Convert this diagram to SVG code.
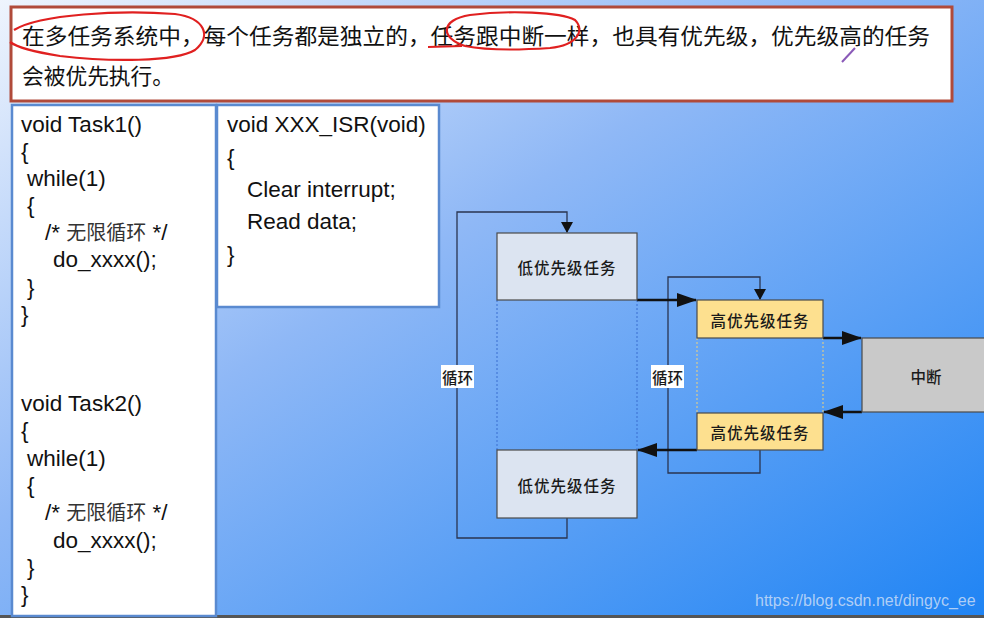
<svg xmlns="http://www.w3.org/2000/svg" width="984" height="618" viewBox="0 0 984 618">
<style>
.code{font-family:"Liberation Sans",Arial,"Noto Sans CJK SC",sans-serif;font-size:22.5px;fill:#111}
.cn{font-family:"Noto Sans CJK SC",sans-serif;fill:#111}
.lbl{font-family:"Noto Sans CJK SC",sans-serif;font-size:15.5px;fill:#1a1a1a;text-anchor:middle;dominant-baseline:central;font-weight:500}
.low{fill:#dce4f1;stroke:#4a4a4a;stroke-width:1.2}
.high{fill:#fde08f;stroke:#4a4a4a;stroke-width:1.2}
.intr{fill:#c9c9c9;stroke:#4a4a4a;stroke-width:1.2}
.loop{fill:none;stroke:#2a3550;stroke-width:1.3}
.flow{fill:none;stroke:#111;stroke-width:2.4}
.dotb{stroke:#3a6fd0;stroke-width:1;stroke-dasharray:2 2}
.doty{stroke:#f2d27a;stroke-width:1;stroke-dasharray:2 2}
</style>
<defs>
<linearGradient id="bg" x1="0" y1="0" x2="1" y2="1">
<stop offset="0" stop-color="#eef4fd"/>
<stop offset="0.42" stop-color="#8fb8f6"/>
<stop offset="1" stop-color="#1f84f4"/>
</linearGradient>
<marker id="ah" markerWidth="11" markerHeight="12" refX="10" refY="6" orient="auto" markerUnits="userSpaceOnUse">
<path d="M0,0 L11,6 L0,12 z" fill="#111"/>
</marker>
<marker id="ahb" markerWidth="20" markerHeight="14" refX="19" refY="7" orient="auto" markerUnits="userSpaceOnUse">
<path d="M0,0 L20,7 L0,14 z" fill="#111"/>
</marker>
</defs>
<rect x="0" y="0" width="984" height="618" fill="url(#bg)"/>
<rect x="0" y="615" width="984" height="3" fill="#555"/>

<g id="intro">
<rect x="11" y="7" width="941" height="94" fill="#fff" stroke="#b04a3a" stroke-width="3"/>
<text class="cn" x="22" y="44" font-size="22" textLength="908" lengthAdjust="spacingAndGlyphs">在多任务系统中，每个任务都是独立的，任务跟中断一样，也具有优先级，优先级高的任务</text>
<text class="cn" x="22" y="84" font-size="22" textLength="152" lengthAdjust="spacingAndGlyphs">会被优先执行。</text>
<path d="M14,30 C40,14 120,10 175,14 C205,18 212,36 195,50 C175,62 110,62 60,56 C35,52 18,48 10,42" fill="none" stroke="#e02020" stroke-width="2.2"/>
<path d="M465,46 C440,38 440,20 470,15 C510,10 560,12 575,20 C585,30 578,45 550,48 C520,50 485,50 465,46" fill="none" stroke="#e02020" stroke-width="2.2"/>
<path d="M428,47 L462,46" fill="none" stroke="#e02020" stroke-width="2"/>
<path d="M855,48 L842,62" fill="none" stroke="#8a5ab8" stroke-width="2"/>
</g>

<g id="task-code">
<rect x="12" y="105" width="204" height="511" fill="#fff" stroke="#5a8ad0" stroke-width="2.5"/>
<text class="code" x="21" y="132">void Task1()</text>
<text class="code" x="21" y="159">{</text>
<text class="code" x="27" y="186">while(1)</text>
<text class="code" x="27" y="213">{</text>
<text class="code" x="45" y="240">/* <tspan font-family="Noto Sans CJK SC" font-size="20" fill="#333">无限循环</tspan> */</text>
<text class="code" x="53" y="267">do_xxxx();</text>
<text class="code" x="27" y="295">}</text>
<text class="code" x="21" y="322">}</text>
<text class="code" x="21" y="411">void Task2()</text>
<text class="code" x="21" y="438">{</text>
<text class="code" x="27" y="466">while(1)</text>
<text class="code" x="27" y="493">{</text>
<text class="code" x="45" y="520">/* <tspan font-family="Noto Sans CJK SC" font-size="20" fill="#333">无限循环</tspan> */</text>
<text class="code" x="53" y="548">do_xxxx();</text>
<text class="code" x="27" y="575">}</text>
<text class="code" x="21" y="602">}</text>
</g>

<g id="isr-code">
<rect x="217" y="105" width="222" height="202" fill="#fff" stroke="#5a8ad0" stroke-width="2.5"/>
<text class="code" x="227" y="132">void XXX_ISR(void)</text>
<text class="code" x="227" y="165">{</text>
<text class="code" x="247" y="197">Clear interrupt;</text>
<text class="code" x="247" y="229">Read data;</text>
<text class="code" x="227" y="262">}</text>
</g>

<g id="connectors">
<path class="loop" d="M567,518 L567,538 L457,538 L457,212 L567,212 L567,232" marker-end="url(#ah)"/>
<path class="loop" d="M760,450 L760,473 L668,473 L668,277 L760,277 L760,299" marker-end="url(#ah)"/>
<line class="dotb" x1="497" y1="300" x2="497" y2="450"/>
<line class="dotb" x1="637" y1="300" x2="637" y2="450"/>
<line class="doty" x1="697" y1="338" x2="697" y2="413"/>
<line class="doty" x1="823" y1="338" x2="823" y2="413"/>
<path class="flow" d="M637,300 L696,300" marker-end="url(#ahb)"/>
<path class="flow" d="M823,338 L861,338" marker-end="url(#ahb)"/>
<path class="flow" d="M862,412 L824,412" marker-end="url(#ahb)"/>
<path class="flow" d="M697,450 L638,450" marker-end="url(#ahb)"/>
<rect x="441" y="365" width="33" height="23" fill="#fff"/>
<text class="lbl" x="457.5" y="377">循环</text>
<rect x="651" y="365" width="33" height="23" fill="#fff"/>
<text class="lbl" x="667.5" y="377">循环</text>
</g>

<g id="low-task-1">
<rect class="low" x="497" y="233" width="140" height="67"/>
<text class="lbl" x="567" y="267" letter-spacing="1">低优先级任务</text>
</g>
<g id="high-task-1">
<rect class="high" x="697" y="300" width="126" height="38"/>
<text class="lbl" x="760" y="320" letter-spacing="1">高优先级任务</text>
</g>
<g id="interrupt">
<rect class="intr" x="862" y="338" width="126" height="74"/>
<text class="lbl" x="926" y="376">中断</text>
</g>
<g id="high-task-2">
<rect class="high" x="697" y="413" width="126" height="37"/>
<text class="lbl" x="760" y="432" letter-spacing="1">高优先级任务</text>
</g>
<g id="low-task-2">
<rect class="low" x="497" y="450" width="140" height="68"/>
<text class="lbl" x="567" y="485" letter-spacing="1">低优先级任务</text>
</g>

<text x="755" y="606" font-family="'Liberation Sans',Arial,sans-serif" font-size="16" fill="#c8dcf6" fill-opacity="0.85">https://blog.csdn.net/dingyc_ee</text>
</svg>
